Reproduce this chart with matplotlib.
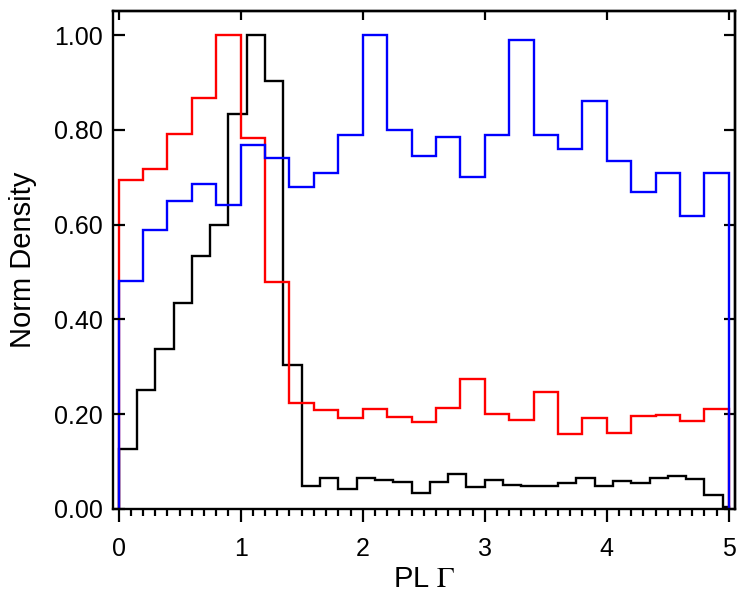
import numpy as np
import matplotlib
matplotlib.use("Agg")
import matplotlib.pyplot as plt

plt.rcParams['font.family'] = ['Liberation Sans', 'DejaVu Sans']
plt.rcParams['mathtext.fontset'] = 'stix'

# bin edges
edges_wide = np.round(np.arange(0, 5.0001, 0.2), 2)
edges_black = np.append(np.round(np.arange(0, 4.96, 0.15), 2), 5.0)

black_vals = [0.127, 0.250, 0.338, 0.434, 0.533, 0.599, 0.834, 1.000, 0.904, 0.303,
              0.048, 0.064, 0.041, 0.066, 0.061, 0.056, 0.034, 0.057, 0.074, 0.046,
              0.061, 0.050, 0.048, 0.048, 0.054, 0.064, 0.048, 0.059, 0.055, 0.064,
              0.069, 0.062, 0.030, 0.004]
red_vals = [0.695, 0.718, 0.791, 0.867, 1.000, 0.782, 0.479, 0.224, 0.209, 0.191,
            0.210, 0.193, 0.184, 0.213, 0.274, 0.201, 0.188, 0.246, 0.157, 0.192,
            0.160, 0.195, 0.198, 0.186, 0.210]
blue_vals = [0.480, 0.589, 0.649, 0.685, 0.641, 0.769, 0.741, 0.680, 0.709, 0.790,
             1.000, 0.800, 0.745, 0.785, 0.700, 0.790, 0.990, 0.790, 0.760, 0.861,
             0.735, 0.669, 0.709, 0.619, 0.709]

x_ticks = [0, 1, 2, 3, 4, 5]
y_ticks = [0.0, 0.2, 0.4, 0.6, 0.8, 1.0]

fig = plt.figure(figsize=(7.5, 6), dpi=100)
ax = fig.add_axes([0.150, 0.152, 0.830, 0.829])

lw = 1.7
ax.stairs(black_vals, edges_black, color='black', linewidth=lw, baseline=0)
ax.stairs(red_vals, edges_wide, color='red', linewidth=lw, baseline=0)
ax.stairs(blue_vals, edges_wide, color='blue', linewidth=lw, baseline=0)

ax.set_xlim(-0.05, 5.05)
ax.set_ylim(0, 1.05)

for s in ax.spines.values():
    s.set_linewidth(1.7)

fs = 18
ax.set_xticks(x_ticks)
ax.set_xticks(np.arange(0, 5.01, 0.1), minor=True)
ax.set_yticks(y_ticks)
ax.set_yticklabels(['%.2f' % v for v in y_ticks])
ax.tick_params(axis='x', which='major', direction='out', length=9.5, width=1.6,
               labelsize=fs, pad=11, top=False)
ax.tick_params(axis='x', which='minor', direction='out', length=5, width=1.6, top=False)
ax.tick_params(axis='y', which='major', direction='in', length=8.5, width=1.6,
               labelsize=fs, pad=7, right=False)

top = ax.secondary_xaxis('top')
top.set_xticks(x_ticks)
top.tick_params(direction='in', length=6.5, width=1.6, labeltop=False)
top.spines['top'].set_linewidth(1.7)

right = ax.secondary_yaxis('right')
right.set_yticks(y_ticks)
right.tick_params(direction='in', length=8, width=1.6, labelright=False)
right.spines['right'].set_linewidth(1.7)

ax.set_xlabel(r'PL $\Gamma$', fontsize=21, labelpad=3)
ax.set_ylabel('Norm Density', fontsize=21, labelpad=12)

fig.savefig('out.png', dpi=100)
